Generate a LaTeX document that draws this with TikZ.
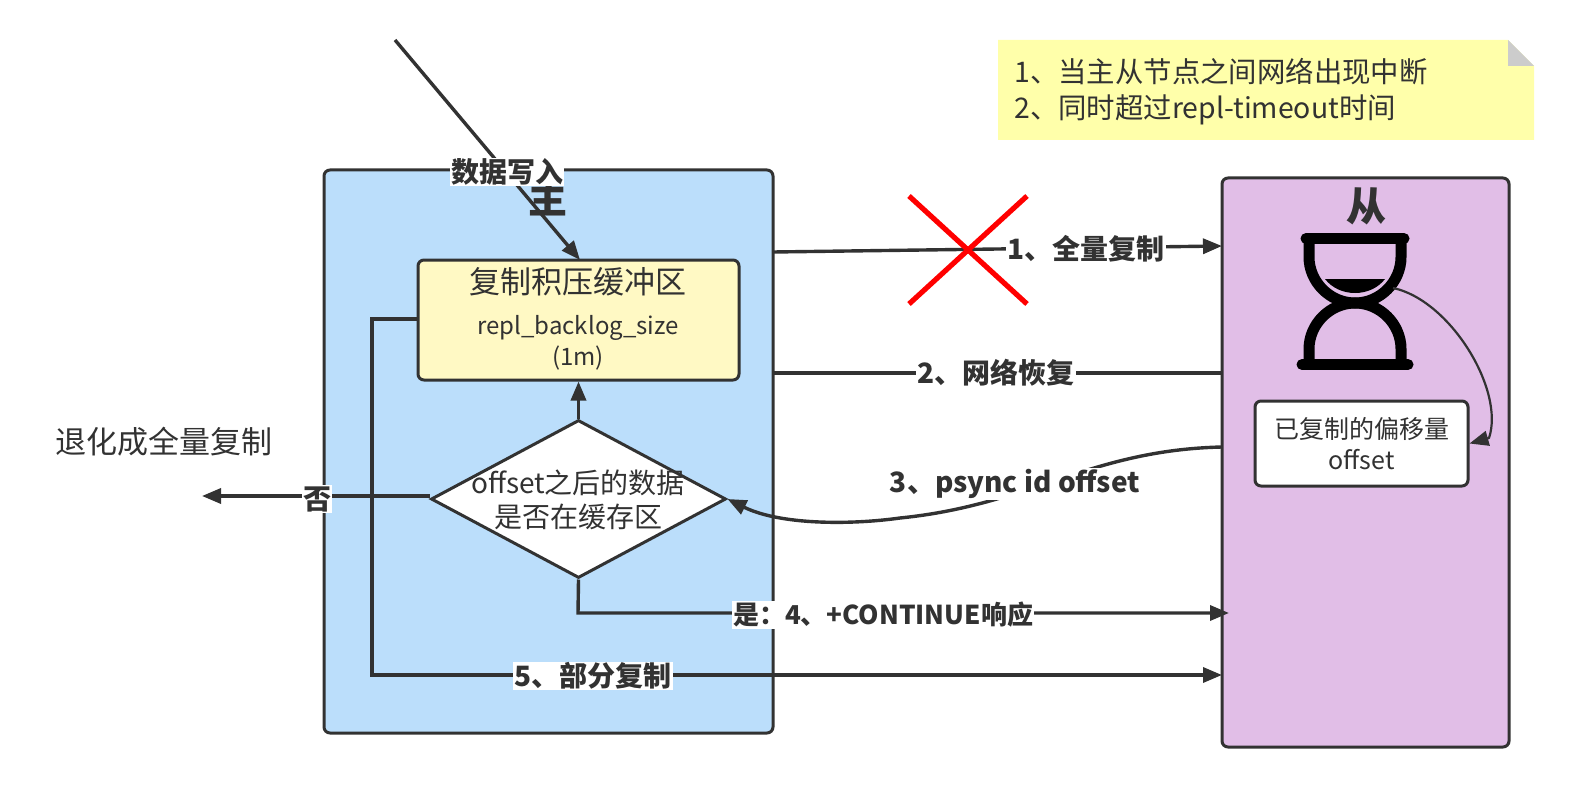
\documentclass[tikz,border=0pt]{standalone}
\usepackage{fontspec}
\setmainfont{Noto Sans CJK SC}
\usetikzlibrary{shapes.geometric,arrows.meta}
\definecolor{ink}{HTML}{323232}
\definecolor{masterfill}{HTML}{BBDEFB}
\definecolor{slavefill}{HTML}{E1BEE7}
\definecolor{bufferfill}{HTML}{FFF9C4}
\definecolor{notefill}{HTML}{FFFFAA}
\tikzset{
  box/.style={draw=ink,line width=1.5pt,rounded corners=3pt,inner sep=0pt},
  conn/.style={draw=ink,line width=1.7pt},
  arrowconn/.style={conn,-{Triangle[length=9.5pt,width=7.5pt]}},
  thinarrow/.style={draw=ink,line width=1.1pt,line join=round,-{Triangle[length=9.5pt,width=7.5pt]}},
  linklabel/.style={fill=white,text=ink,font=\fontsize{14}{16}\selectfont\bfseries,inner sep=0.5pt},
  plain/.style={text=ink,inner sep=0pt},
}
\begin{document}
\begin{tikzpicture}[x=0.5pt,y=-0.5pt]
\useasboundingbox (0,0) rectangle (1572,786);
% containers
\node[box,fill=masterfill,minimum width=224.5pt,minimum height=281.5pt] (master) at (548.5,451.5) {};
\node[box,fill=slavefill,minimum width=143.5pt,minimum height=284.5pt] (slave) at (1365.5,462.5) {};
\node[plain,font=\fontsize{19.5}{22}\selectfont\bfseries] (mastertitle) at (548,198) {主};
\node[plain,font=\fontsize{20}{22}\selectfont\bfseries] (slavetitle) at (1366,206) {从};
% note
\fill[notefill] (998,40) -- (1508,40) -- (1534,66) -- (1534,140) -- (998,140) -- cycle;
\fill[black!20] (1508,40) -- (1534,66) -- (1508,66) -- cycle;
\node[plain,anchor=west,align=left,font=\fontsize{14.2}{18}\selectfont] (note) at (1014,91.5) {1、当主从节点之间网络出现中断\\2、同时超过repl-timeout时间};
% buffer
\node[box,fill=bufferfill,minimum width=160.5pt,minimum height=60pt] (buffer) at (578.5,320) {};
\node[plain,font=\fontsize{15.5}{18}\selectfont] (buffertitle) at (578,282) {复制积压缓冲区};
\node[plain,align=center,font=\fontsize{12}{15.5}\selectfont] (buffertext) at (578,343) {repl\_backlog\_size\\(1m)};
% decision
\node[diamond,draw=ink,line width=1.5pt,fill=white,minimum width=147.5pt,minimum height=79pt,inner sep=0pt] (decision) at (578.5,499) {};
\node[plain,align=center,font=\fontsize{14}{17}\selectfont] (decisiontext) at (578,500) {offset之后的数据\\是否在缓存区};
% offset box
\node[box,fill=white,minimum width=106.5pt,minimum height=42.5pt,align=center,font=\fontsize{12.5}{15.5}\selectfont,text=ink] (offsetbox) at (1361.5,443.5) {已复制的偏移量\\offset};
% free text
\node[plain,font=\fontsize{15.5}{18}\selectfont] (fallback) at (164,442) {退化成全量复制};
% hourglass
\draw[black,line width=5.5pt] (1309,240) -- (1309,257) .. controls (1309,282) and (1330,303) .. (1355,303) .. controls (1380,303) and (1401,282) .. (1401,257) -- (1401,240);
\draw[black,line width=5.5pt] (1309,365) -- (1309,349) .. controls (1309,324) and (1330,303) .. (1355,303) .. controls (1380,303) and (1401,324) .. (1401,349) -- (1401,365);
\draw[black,line width=5.5pt,line cap=round] (1306,238.5) -- (1404,238.5);
\draw[black,line width=5.5pt,line cap=round] (1302,364.5) -- (1408,364.5);
\fill[black] (1325,279) -- (1385,279) .. controls (1378,288) and (1367,293) .. (1355,293) .. controls (1343,293) and (1332,288) .. (1325,279) -- cycle;
% free ends
\coordinate (writestart) at (395,40);
\coordinate (writeend) at (580,260);
\coordinate (noend) at (202,496);
\coordinate (sand) at (1393,288);
\coordinate (bend) at (1489,438);
\coordinate (m1) at (773,252);
\coordinate (s1) at (1222,246);
\coordinate (m2) at (773,373);
\coordinate (s2) at (1222,373);
\coordinate (s3) at (1222,447);
\coordinate (s4) at (1229,613);
\coordinate (s5) at (1222,675);
% connectors
\draw[arrowconn] (writestart) -- (writeend);
\draw[arrowconn] (m1) -- (s1);
\draw[conn] (m2) -- (s2);
\draw[arrowconn] (s3) .. controls (1090,450) and (1030,505) .. (900,518) .. controls (850,525) and (780,525) .. (decision.east);
\draw[arrowconn] (decision.south) -- (578,613) -- (s4);
\draw[arrowconn] (buffer.west |- 0,319) -- (372,319) -- (372,675) -- (s5);
\draw[arrowconn] (decision.north) -- (buffer.south);
\draw[arrowconn] (decision.west |- 0,496) -- (noend);
\draw[thinarrow] (sand) .. controls (1450,300) and (1505,390) .. (bend) -- (offsetbox.east);
% link labels
\node[linklabel] (lwrite) at (507,172) {数据写入};
\node[linklabel] (l1) at (1086,249) {1、全量复制};
\node[linklabel] (l2) at (996,373) {2、网络恢复};
\node[linklabel] (l3) at (1015,484) {3、psync id offset};
\node[linklabel,font=\fontsize{13}{16}\selectfont\bfseries] (l4) at (883,615) {是：4、+CONTINUE响应};
\node[linklabel] (l5) at (593,676) {5、部分复制};
\node[linklabel] (lno) at (317,499) {否};
% red cross
\draw[red,line width=2.6pt] (909,196) -- (1027,304);
\draw[red,line width=2.6pt] (1027,196) -- (909,304);
\end{tikzpicture}
\end{document}
